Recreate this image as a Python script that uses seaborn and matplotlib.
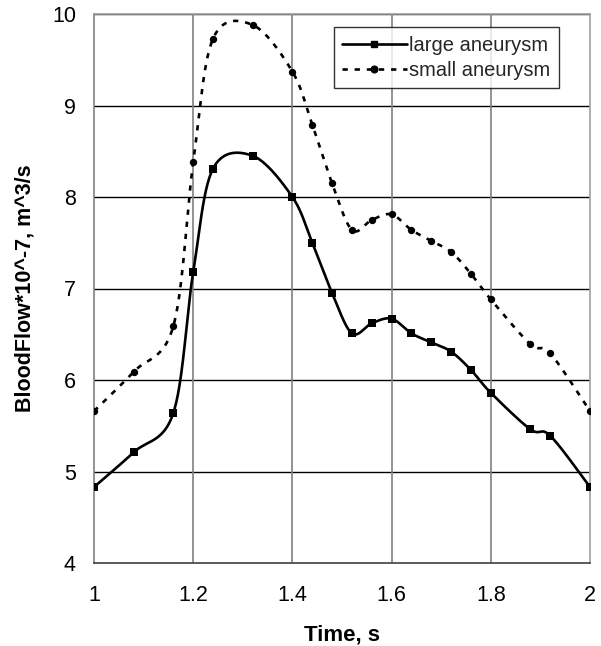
import numpy as np
import pandas as pd
import matplotlib
matplotlib.use("Agg")
import matplotlib.pyplot as plt
import seaborn as sns
from matplotlib.lines import Line2D

time_large = [1.00, 1.08, 1.16, 1.20, 1.24, 1.32, 1.40, 1.44, 1.48, 1.52, 1.56, 1.60,
              1.64, 1.68, 1.72, 1.76, 1.80, 1.88, 1.92, 2.00]
flow_large = [4.83, 5.21, 5.64, 7.18, 8.31, 8.45, 8.00, 7.50, 6.95, 6.51, 6.62, 6.67,
              6.51, 6.41, 6.31, 6.11, 5.86, 5.46, 5.39, 4.83]
time_small = [1.00, 1.08, 1.16, 1.20, 1.24, 1.32, 1.40, 1.44, 1.48, 1.52, 1.56, 1.60,
              1.64, 1.68, 1.72, 1.76, 1.80, 1.88, 1.92, 2.00]
flow_small = [5.66, 6.09, 6.59, 8.38, 9.73, 9.88, 9.37, 8.79, 8.15, 7.64, 7.75, 7.81,
              7.64, 7.52, 7.40, 7.16, 6.88, 6.39, 6.29, 5.66]
series_names = ["large aneurysm", "small aneurysm"]
x_ticks = [1, 1.2, 1.4, 1.6, 1.8, 2]
x_tick_labels = ["1", "1.2", "1.4", "1.6", "1.8", "2"]
y_ticks = [4, 5, 6, 7, 8, 9, 10]


def smooth(xs, ys, n=30):
    """Catmull-Rom style smoothing (like Excel's smoothed line) for drawing only."""
    P = np.column_stack([xs, ys]).astype(float)
    P = np.vstack([P[0], P, P[-1]])
    out = []
    t = np.linspace(0, 1, n)[:, None]
    for i in range(1, len(P) - 2):
        p0, p1, p2, p3 = P[i - 1], P[i], P[i + 1], P[i + 2]
        c1 = p1 + (p2 - p0) / 6.0
        c2 = p2 - (p3 - p1) / 6.0
        seg = ((1 - t) ** 3) * p1 + 3 * ((1 - t) ** 2) * t * c1 + 3 * (1 - t) * t ** 2 * c2 + t ** 3 * p2
        out.append(seg if i == 1 else seg[1:])
    S = np.vstack(out)
    return S[:, 0], S[:, 1]


DASH = (0, (2.0, 2.6))

sns.set_theme(style="white")
plt.rcParams["font.family"] = ["Liberation Sans", "DejaVu Sans"]

fig = plt.figure(figsize=(6.01, 6.46), dpi=100)
ax = fig.add_axes([94 / 601, 1 - 563 / 646, (590 - 94) / 601, (563 - 14) / 646])

df_l = pd.DataFrame({"t": time_large, "f": flow_large})
df_s = pd.DataFrame({"t": time_small, "f": flow_small})
sl = pd.DataFrame(dict(zip(["t", "f"], smooth(time_large, flow_large))))
ss = pd.DataFrame(dict(zip(["t", "f"], smooth(time_small, flow_small))))

sns.lineplot(data=sl, x="t", y="f", ax=ax, color="black", lw=1.9, sort=False, estimator=None, zorder=3)
sns.lineplot(data=ss, x="t", y="f", ax=ax, color="black", lw=1.9, sort=False, estimator=None,
             zorder=3).lines[-1].set_linestyle(DASH)
sns.scatterplot(data=df_l, x="t", y="f", ax=ax, marker="s", s=36, color="black", edgecolor="black",
                linewidth=0, zorder=4)
sns.scatterplot(data=df_s, x="t", y="f", ax=ax, marker="o", s=28, color="black", edgecolor="black",
                linewidth=0, zorder=4)

ax.set_xlim(1, 2)
ax.set_ylim(4, 10)
ax.set_xticks(x_ticks)
ax.set_xticklabels(x_tick_labels)
ax.set_yticks(y_ticks)

for y in y_ticks[1:]:
    ax.axhline(y, color="black", lw=1.0, zorder=1)
for x in x_ticks[1:-1]:
    ax.axvline(x, color="#808080", lw=1.2, zorder=1)

for side in ["top", "right"]:
    ax.spines[side].set_color("#a0a0a0")
    ax.spines[side].set_linewidth(1.2)
ax.spines["left"].set_color("#808080")
ax.spines["left"].set_linewidth(1.2)
ax.spines["bottom"].set_color("#404040")
ax.spines["bottom"].set_linewidth(1.2)

ax.tick_params(axis="both", direction="inout", length=10, width=1, color="#404040",
               labelsize=15.5, labelcolor="black")
ax.tick_params(axis="x", pad=11)
ax.tick_params(axis="y", pad=8)

ax.set_xlabel("Time, s", fontsize=16, fontweight="bold", labelpad=13, color="black")
ax.set_ylabel("BloodFlow*10^-7, m^3/s", fontsize=15.5, fontweight="bold", labelpad=11.5, color="black")

handles = [
    Line2D([], [], color="black", lw=1.9, marker="s", markersize=5),
    Line2D([], [], color="black", lw=1.9, ls=DASH, marker="o", markersize=4.8),
]
leg = ax.legend(handles, series_names, loc="upper right", bbox_to_anchor=(0.937, 0.976),
                fontsize=14.5, frameon=True, fancybox=False, edgecolor="black",
                handlelength=3.2, handletextpad=0.12, borderpad=0.42, labelspacing=0.3,
                borderaxespad=0)
leg.get_frame().set_linewidth(1.0)
leg.set_zorder(5)

fig.savefig("out.png", dpi=100)
